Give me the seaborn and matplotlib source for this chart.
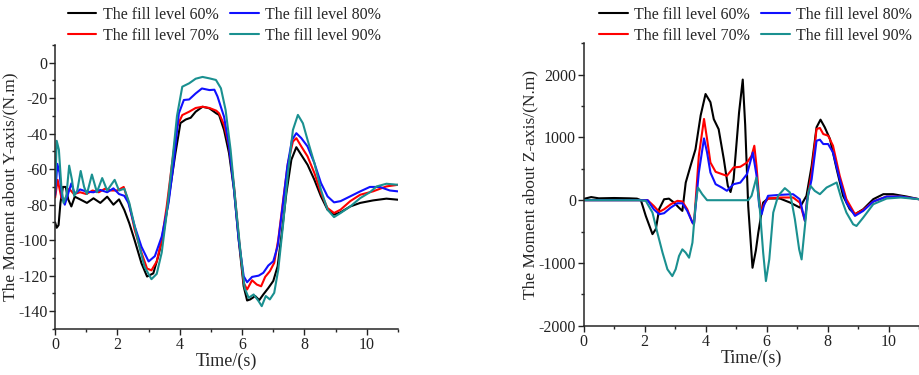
import numpy as np
import pandas as pd
import matplotlib
matplotlib.use("Agg")
import matplotlib.pyplot as plt
from matplotlib.ticker import MultipleLocator
import seaborn as sns

# Moment about Y-axis (left panel)
t_y60 = [0, 0.05, 0.11, 0.17, 0.25, 0.34, 0.42, 0.52, 0.63, 0.8, 1.02, 1.23, 1.45, 1.67, 1.87, 2.05, 2.22, 2.38, 2.55, 2.77,
         2.95, 3.15, 3.31, 3.48, 3.64, 3.86, 4.02, 4.19, 4.35, 4.51, 4.73, 4.95, 5.17, 5.26, 5.42, 5.58, 5.74, 5.89, 6.05, 6.16,
         6.26, 6.42, 6.55, 6.68, 6.84, 7.0, 7.14, 7.26, 7.42, 7.58, 7.74, 7.9, 8.1, 8.32, 8.53, 8.74, 8.95, 9.16, 9.47, 9.79,
         10.2, 10.63, 11.0]
m_y60 = [-90, -93, -91.5, -79, -70, -70, -77, -81, -75.5, -77, -79, -76.4, -79, -75.5, -80, -77, -83, -90.5, -100, -113,
         -120.5, -118.7, -109, -96, -77, -51, -34, -32, -31, -27.6, -24.8, -25.7, -28.5, -29.4, -37.9, -51, -71.6, -99.7, -126, -134,
         -133.4, -131.5, -133.8, -130.6, -127, -123, -114.7, -97.8, -73.5, -54.7, -47.6, -52, -57.5, -66, -75.3, -82.8, -85.6, -84.3, -81, -79,
         -77.6, -76.6, -77.2]

t_y70 = [0, 0.08, 0.2, 0.3, 0.45, 0.6, 0.8, 1.0, 1.2, 1.4, 1.6, 1.8, 2.0, 2.2, 2.38, 2.55, 2.77, 2.95, 3.09, 3.26,
         3.42, 3.58, 3.75, 3.91, 4.08, 4.3, 4.51, 4.73, 4.95, 5.17, 5.26, 5.42, 5.58, 5.74, 5.89, 6.05, 6.16, 6.32, 6.47, 6.61,
         6.74, 6.89, 7.03, 7.16, 7.32, 7.47, 7.63, 7.74, 7.9, 8.1, 8.32, 8.53, 8.74, 8.95, 9.16, 9.47, 9.79, 10.2, 10.63, 11.0]
m_y70 = [-76, -66, -76, -78, -71, -74, -73, -74, -72, -73, -71, -72, -72, -70, -80, -94, -107, -116, -117, -112,
         -100, -81, -57, -36, -29.5, -27.6, -25.5, -24.8, -25.5, -27, -28.5, -35, -47, -69.7, -97.8, -124, -127.8, -122.6, -125, -126,
         -120.7, -117.5, -112.8, -99.7, -77, -56.6, -44.4, -42.5, -47.2, -52.8, -62.2, -73.5, -81.9, -84.7, -82.8, -78, -74.4, -72.5, -69.7, -68.8]

t_y80 = [0, 0.07, 0.14, 0.22, 0.31, 0.42, 0.52, 0.63, 0.8, 1.02, 1.23, 1.45, 1.67, 1.87, 2.05, 2.22, 2.35, 2.55, 2.77, 3.0,
         3.2, 3.42, 3.64, 3.8, 3.97, 4.13, 4.3, 4.51, 4.71, 4.95, 5.11, 5.21, 5.42, 5.58, 5.74, 5.89, 6.05, 6.16, 6.32, 6.53,
         6.68, 6.84, 7.0, 7.14, 7.3, 7.45, 7.6, 7.74, 7.9, 8.1, 8.32, 8.53, 8.74, 8.95, 9.16, 9.47, 9.79, 10.1, 10.42, 10.74, 11.0]
m_y80 = [-74.6, -57, -62, -75.5, -80, -73.6, -68, -74, -71.4, -72.7, -73, -71.7, -73, -70.8, -74, -75, -79, -92, -103.7, -112,
         -109, -98, -79, -57, -28.5, -21, -20.7, -17.3, -14.5, -15.4, -15.2, -19, -30.4, -47, -71.6, -99.7, -120.3, -123.7, -120.7, -120,
         -118.4, -114.3, -111.9, -103.4, -81, -58.5, -43.5, -39.7, -42.5, -47.2, -56.6, -67.8, -75.3, -78.7, -78, -75.3, -72.5, -70, -70, -72, -72.5]

t_y90 = [0, 0.05, 0.12, 0.2, 0.27, 0.36, 0.45, 0.54, 0.61, 0.71, 0.82, 0.93, 1.02, 1.18, 1.34, 1.51, 1.67, 1.91, 2.05, 2.22,
         2.38, 2.55, 2.71, 2.87, 3.09, 3.26, 3.42, 3.58, 3.75, 3.91, 4.08, 4.3, 4.51, 4.73, 4.95, 5.16, 5.32, 5.47, 5.63, 5.79,
         5.95, 6.08, 6.21, 6.37, 6.53, 6.63, 6.76, 6.89, 7.03, 7.16, 7.32, 7.47, 7.63, 7.79, 7.95, 8.1, 8.32, 8.53, 8.74, 8.95,
         9.16, 9.47, 9.79, 10.1, 10.32, 10.63, 11.0]
m_y90 = [-72, -44, -49, -70, -79, -75, -58, -66, -75, -72, -61, -70, -74, -63, -73, -65, -72, -66, -72, -71,
         -79, -92, -104, -115, -122, -119, -107, -85, -57, -30, -13.5, -11.6, -9, -8, -8.8, -9.7, -14.4, -26.6, -49, -79,
         -107, -126.9, -132.5, -130.6, -134.4, -137.2, -131.5, -133.4, -129.7, -116.6, -90.3, -62.2, -37.9, -29.4, -34.1, -43.5, -56.6, -71.6, -82.8, -87,
         -84.7, -81, -76.3, -73, -69.7, -68.2, -68.8]

# Moment about Z-axis (right panel)
t_z60 = [0, 0.25, 0.5, 1.0, 1.5, 1.75, 1.88, 2.04, 2.26, 2.37, 2.48, 2.64, 2.8, 2.97, 3.13, 3.24, 3.35, 3.51, 3.67, 3.84,
         4.0, 4.16, 4.27, 4.43, 4.6, 4.73, 4.82, 4.92, 5.1, 5.22, 5.3, 5.4, 5.54, 5.65, 5.73, 5.89, 6.05, 6.44, 6.77, 7.09,
         7.31, 7.48, 7.64, 7.77, 7.91, 8.08, 8.3, 8.51, 8.73, 8.9, 9.17, 9.5, 9.83, 10.15, 10.6, 11.0]
m_z60 = [20, 50, 30, 35, 30, 25, 0, -250, -540, -460, -140, 15, 25, -40, -120, -170, 280, 550, 810, 1350,
         1690, 1560, 1290, 1130, 650, 230, 130, 335, 1400, 1920, 1200, -100, -1075, -800, -516, -37, 27, 27, -37, -117,
         70, 548, 1160, 1282, 1160, 974, 495, 70, -144, -223, -144, 16, 96, 96, 58, 16]

t_z70 = [0, 1.8, 2.1, 2.3, 2.48, 2.64, 2.86, 3.08, 3.24, 3.4, 3.57, 3.62, 3.78, 3.95, 4.05, 4.16, 4.33, 4.54, 4.7, 4.92,
         5.14, 5.36, 5.51, 5.6, 5.67, 5.76, 5.84, 5.91, 6.05, 6.44, 6.87, 7.09, 7.26, 7.33, 7.48, 7.64, 7.75, 7.86, 8.02, 8.18,
         8.4, 8.62, 8.9, 9.17, 9.5, 9.94, 10.4, 11.0]
m_z70 = [0, 0, 0, -90, -186, -144, -64, -10, -20, -144, -356, -383, 708, 1293, 974, 600, 452, 415, 388, 521,
         532, 600, 708, 867, 548, 16, -197, -64, 27, 43, 43, -37, -330, 0, 441, 1133, 1150, 1053, 1027, 867,
         388, 16, -223, -154, -21, 58, 58, 16]

t_z80 = [0, 1.8, 2.1, 2.3, 2.48, 2.64, 2.86, 3.08, 3.24, 3.4, 3.57, 3.62, 3.78, 3.95, 4.05, 4.16, 4.33, 4.54, 4.7, 4.92,
         5.14, 5.36, 5.55, 5.67, 5.76, 5.84, 5.91, 6.05, 6.44, 6.87, 7.09, 7.26, 7.33, 7.48, 7.64, 7.75, 7.86, 8.02, 8.18, 8.4,
         8.62, 8.9, 9.17, 9.5, 9.94, 10.4, 11.0]
m_z80 = [0, 0, 0, -144, -223, -207, -117, -48, -50, -170, -356, -383, 441, 984, 760, 441, 255, 200, 150, 255,
         280, 415, 760, 400, -90, -223, -90, 70, 85, 96, 16, -330, 0, 335, 947, 963, 894, 894, 760, 335,
         -37, -250, -170, -21, 58, 58, 16]

t_z90 = [0, 1.8, 2.04, 2.26, 2.42, 2.59, 2.75, 2.91, 3.02, 3.13, 3.24, 3.35, 3.46, 3.57, 3.67, 3.75, 3.89, 4.05, 5.4, 5.51,
         5.67, 5.78, 5.89, 5.98, 6.09, 6.22, 6.38, 6.6, 6.77, 6.93, 7.07, 7.15, 7.26, 7.37, 7.44, 7.58, 7.75, 7.97, 8.3, 8.46,
         8.62, 8.84, 8.95, 9.17, 9.5, 9.94, 10.4, 11.0]
m_z90 = [0, 0, -10, -197, -516, -835, -1100, -1208, -1100, -888, -782, -835, -915, -676, -90, 202, 96, 0, 0, 70,
         362, -144, -835, -1287, -942, -197, 70, 192, 122, -303, -782, -942, -410, 122, 229, 149, 96, 202, 282, 16,
         -197, -383, -410, -277, -64, 27, 43, 16]

levels = ["The fill level 60%", "The fill level 70%", "The fill level 80%", "The fill level 90%"]
farben = ["#000000", "#ff0000", "#1010ff", "#1a9090"]


def make_df(ts, ms):
    teile = []
    for lab, t, m in zip(levels, ts, ms):
        teile.append(pd.DataFrame({"t": t, "m": m, "level": lab}))
    return pd.concat(teile, ignore_index=True)


df_y = make_df([t_y60, t_y70, t_y80, t_y90], [m_y60, m_y70, m_y80, m_y90])
df_z = make_df([t_z60, t_z70, t_z80, t_z90], [m_z60, m_z70, m_z80, m_z90])

sns.set_style("ticks")
plt.rcParams["font.family"] = ["Liberation Serif", "DejaVu Serif"]
plt.rcParams["font.size"] = 12
plt.rcParams["axes.unicode_minus"] = False

fig = plt.figure(figsize=(9.19, 3.75), dpi=100)
ax1 = fig.add_axes([0.060, 0.123, 0.373, 0.757])
ax2 = fig.add_axes([0.635, 0.131, 0.365, 0.754])

for ax, df in [(ax1, df_y), (ax2, df_z)]:
    sns.lineplot(data=df, x="t", y="m", hue="level", hue_order=levels, palette=farben,
                 estimator=None, sort=False, linewidth=1.5, ax=ax)
    ax.set_xlim(0, 11)
    ax.xaxis.set_major_locator(MultipleLocator(2))
    ax.xaxis.set_minor_locator(MultipleLocator(1))
    ax.tick_params(which="major", direction="out", length=4, width=1, labelsize=11.5, colors="#222222", pad=1.5)
    ax.tick_params(which="minor", direction="out", length=2.5, width=1)
    ax.set_xlabel("Time/(s)", fontsize=13, labelpad=0)
    sns.despine(ax=ax)
    for sp in ax.spines.values():
        sp.set_linewidth(1.1)

ax1.set_ylim(-150, 10)
ax1.yaxis.set_major_locator(MultipleLocator(20))
ax1.yaxis.set_minor_locator(MultipleLocator(10))
ax1.set_ylabel("The Moment about Y-axis/(N.m)", fontsize=12.5, labelpad=0)

ax2.set_ylim(-2000, 2500)
ax2.set_yticks([-2000, -1000, 0, 1000, 2000])
ax2.yaxis.set_minor_locator(MultipleLocator(500))
ax2.set_ylabel("The Moment about Z-axis/(N.m)", fontsize=12.5, labelpad=0)

for ax, xc in [(ax1, 0.244), (ax2, 0.822)]:
    sns.move_legend(ax, "upper center", bbox_to_anchor=(xc, 1.02), bbox_transform=fig.transFigure,
                    ncol=2, frameon=False, title=None, fontsize=11.5, handlelength=1.8,
                    handletextpad=0.4, columnspacing=0.7, labelspacing=0.3)

plt.savefig("out.png", dpi=100)
